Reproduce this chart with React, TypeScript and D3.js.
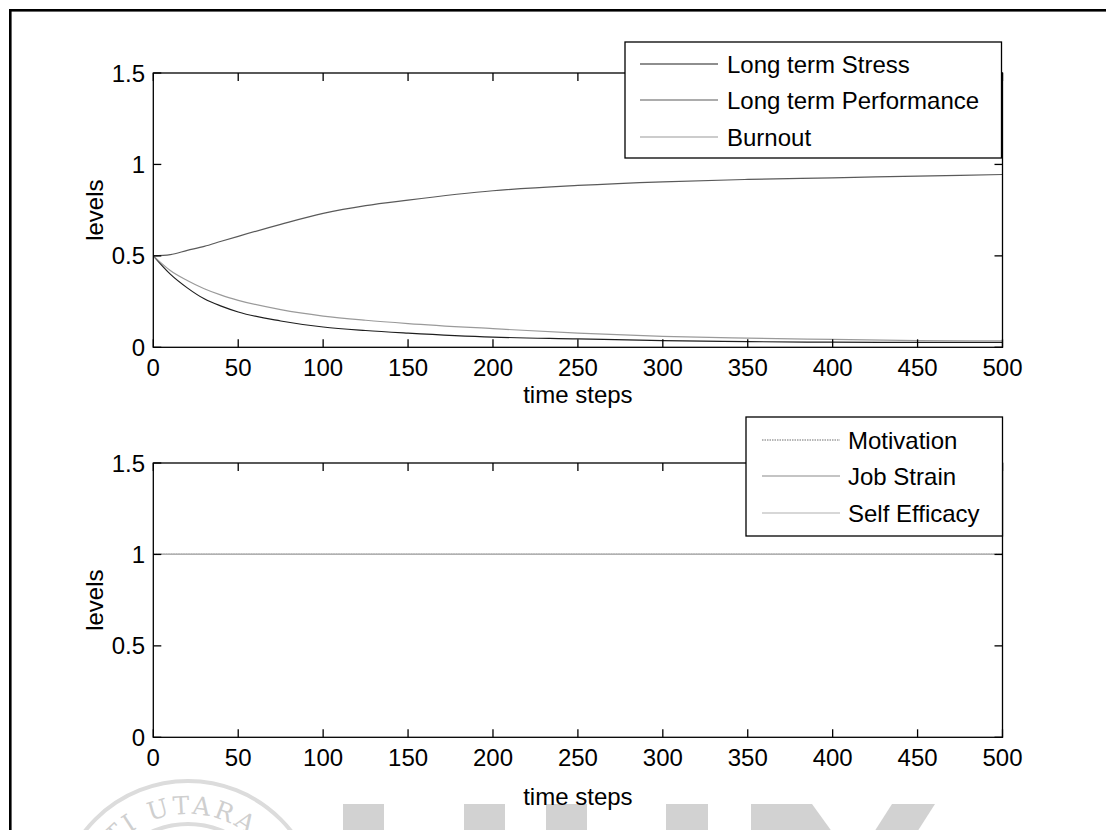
import React, { useEffect, useRef } from 'react';
import * as d3 from 'd3';

// values (upper panel)
const timeSteps = [0, 10, 20, 30, 40, 50, 75, 100, 125, 150, 200, 250, 300, 350, 400, 450, 500];
const longTermStress = [0.5, 0.4, 0.325, 0.265, 0.225, 0.193, 0.144, 0.111, 0.092, 0.078, 0.056, 0.046, 0.036, 0.031, 0.028, 0.027, 0.027];
const longTermPerformance = [0.5, 0.507, 0.53, 0.552, 0.58, 0.607, 0.672, 0.732, 0.775, 0.805, 0.856, 0.885, 0.905, 0.918, 0.927, 0.936, 0.945];
const burnout = [0.5, 0.42, 0.365, 0.32, 0.285, 0.257, 0.206, 0.171, 0.148, 0.13, 0.102, 0.077, 0.06, 0.05, 0.043, 0.037, 0.035];

// lower panel: all three stay at 1
const flatSteps = [0, 500];
const motivation = [1, 1];
const jobStrain = [1, 1];
const selfEfficacy = [1, 1];

const xTicks = [0, 50, 100, 150, 200, 250, 300, 350, 400, 450, 500];
const yTicks = [0, 0.5, 1, 1.5];
const topNames = ['Long term Stress', 'Long term Performance', 'Burnout'];
const bottomNames = ['Motivation', 'Job Strain', 'Self Efficacy'];

const FONT = "'Liberation Sans', Arial, sans-serif";

const App = () => {
  const ref = useRef<SVGSVGElement>(null);

  useEffect(() => {
    const svg = d3.select(ref.current);
    svg.selectAll('*').remove();

    // watermark (faint logo at the bottom)
    const wm = svg.append('g').attr('fill', '#d2d2d2').attr('stroke', 'none');
    const cx = 188, cy = 912;
    wm.append('circle').attr('cx', cx).attr('cy', cy).attr('r', 131)
      .attr('fill', 'none').attr('stroke', '#dcdcdc').attr('stroke-width', 4);
    wm.append('circle').attr('cx', cx).attr('cy', cy).attr('r', 88)
      .attr('fill', 'none').attr('stroke', '#dcdcdc').attr('stroke-width', 4);
    const r = 98;
    svg.append('defs').append('path').attr('id', 'wmArc')
      .attr('d', `M${-r},0 A${r},${r} 0 0 1 ${r},0 A${r},${r} 0 0 1 ${-r},0`);
    wm.append('text')
      .attr('transform', `translate(${cx},${cy})`)
      .style('font-family', "'DejaVu Serif', serif").style('font-size', '25px').attr('fill', '#cfcfcf')
      .style('letter-spacing', '3px')
      .append('textPath').attr('href', '#wmArc').attr('startOffset', '25%')
      .attr('text-anchor', 'middle')
      .text('UNIVERSITI UTARA MALAYSIA');
    [[343, 384], [464, 505], [546, 587], [666, 708], [751, 792]].forEach(([a, b]) => {
      wm.append('rect').attr('x', a).attr('y', 804).attr('width', b - a).attr('height', 40);
    });
    wm.append('polygon').attr('points', '792,804 812,804 838,840 792,840');
    wm.append('polygon').attr('points', '892,804 935,804 912,840 869,840');

    // outer frame
    svg.append('rect').attr('x', 10.3).attr('y', 10.3).attr('width', 1200).attr('height', 1000)
      .attr('fill', 'none').attr('stroke', '#000').attr('stroke-width', 2.6);

    const x = d3.scaleLinear().domain([0, 500]).range([153.3, 1002.5]);

    const drawPanel = (
      top: number,
      bottom: number,
      labelGap: number,
      series: { xs: number[]; ys: number[]; color: string; dash?: string }[],
      names: string[],
      box: { x: number; y: number; w: number; h: number; rows: number[]; lx: number; tx: number }
    ) => {
      const y = d3.scaleLinear().domain([0, 1.5]).range([bottom, top]);
      const g = svg.append('g');

      const line = d3.line<[number, number]>()
        .x(d => x(d[0]))
        .y(d => y(d[1]))
        .curve(d3.curveMonotoneX);

      series.forEach(s => {
        g.append('path')
          .datum(s.xs.map((v, i) => [v, s.ys[i]] as [number, number]))
          .attr('d', line)
          .attr('fill', 'none')
          .attr('stroke', s.color)
          .attr('stroke-width', 1.2)
          .attr('stroke-dasharray', s.dash || null);
      });

      // box
      g.append('rect')
        .attr('x', x(0)).attr('y', top)
        .attr('width', x(500) - x(0)).attr('height', bottom - top)
        .attr('fill', 'none').attr('stroke', '#000').attr('stroke-width', 1.3);

      // inward ticks on all sides
      const tl = 8;
      xTicks.forEach(t => {
        g.append('line').attr('x1', x(t)).attr('x2', x(t)).attr('y1', bottom).attr('y2', bottom - tl)
          .attr('stroke', '#000').attr('stroke-width', 1.3);
        g.append('line').attr('x1', x(t)).attr('x2', x(t)).attr('y1', top).attr('y2', top + tl)
          .attr('stroke', '#000').attr('stroke-width', 1.3);
        g.append('text').attr('x', x(t)).attr('y', bottom + 29)
          .attr('text-anchor', 'middle')
          .style('font-family', FONT).style('font-size', '24px')
          .text(t);
      });
      yTicks.forEach(t => {
        g.append('line').attr('x1', x(0)).attr('x2', x(0) + tl).attr('y1', y(t)).attr('y2', y(t))
          .attr('stroke', '#000').attr('stroke-width', 1.3);
        g.append('line').attr('x1', x(500)).attr('x2', x(500) - tl).attr('y1', y(t)).attr('y2', y(t))
          .attr('stroke', '#000').attr('stroke-width', 1.3);
        g.append('text').attr('x', 145).attr('y', y(t) + 8.5)
          .attr('text-anchor', 'end')
          .style('font-family', FONT).style('font-size', '24px')
          .text(t);
      });

      g.append('text').attr('x', (x(0) + x(500)) / 2).attr('y', bottom + labelGap)
        .attr('text-anchor', 'middle')
        .style('font-family', FONT).style('font-size', '24px')
        .text('time steps');

      g.append('text')
        .attr('transform', `translate(103,${(top + bottom) / 2}) rotate(-90)`)
        .attr('text-anchor', 'middle')
        .style('font-family', FONT).style('font-size', '24px')
        .text('levels');

      // legend
      const lg = g.append('g');
      lg.append('rect').attr('x', box.x).attr('y', box.y).attr('width', box.w).attr('height', box.h)
        .attr('fill', '#fff').attr('stroke', '#000').attr('stroke-width', 1.3);
      names.forEach((n, i) => {
        lg.append('line').attr('x1', box.lx).attr('x2', box.lx + 78)
          .attr('y1', box.rows[i]).attr('y2', box.rows[i])
          .attr('stroke', series[i].color).attr('stroke-width', 1.2)
          .attr('stroke-dasharray', series[i].dash || null);
        lg.append('text').attr('x', box.tx).attr('y', box.rows[i] + 8.5)
          .style('font-family', FONT).style('font-size', '24px')
          .text(n);
      });
    };

    drawPanel(
      73, 347.3, 56,
      [
        { xs: timeSteps, ys: longTermStress, color: '#1e1e1e' },
        { xs: timeSteps, ys: longTermPerformance, color: '#5a5a5a' },
        { xs: timeSteps, ys: burnout, color: '#9a9a9a' },
      ],
      topNames,
      { x: 625, y: 42, w: 376.5, h: 116, rows: [64, 100, 137], lx: 640, tx: 727 }
    );

    drawPanel(
      463, 737.3, 68,
      [
        { xs: flatSteps, ys: motivation, color: '#6e6e6e', dash: '1.5,1' },
        { xs: flatSteps, ys: jobStrain, color: '#8a8a8a' },
        { xs: flatSteps, ys: selfEfficacy, color: '#b0b0b0' },
      ],
      bottomNames,
      { x: 746, y: 417, w: 256.5, h: 119, rows: [440, 476, 513], lx: 762, tx: 848 }
    );

    return () => {
      d3.select(ref.current).selectAll('*').remove();
    };
  }, []);

  return (
    <svg
      ref={ref}
      width={1106}
      height={830}
      style={{ position: 'absolute', left: 0, top: 0, background: '#fff' }}
    />
  );
};

export default App;
